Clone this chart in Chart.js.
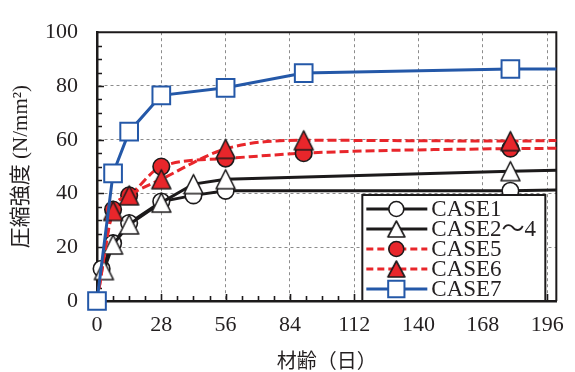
<!DOCTYPE html>
<html>
<head>
<meta charset="utf-8">
<script src="https://cdn.jsdelivr.net/npm/chart.js@4/dist/chart.umd.min.js"></script>
<style>
  html, body { margin: 0; padding: 0; background: #fff; }
  #wrap { width: 575px; height: 372px; }
</style>
</head>
<body>
<div id="wrap"><canvas id="c" width="575" height="372"></canvas></div>
<script>
// Compressive strength development by curing age.
// Ages in days, strengths in N/mm². The last entry of each series is where
// its line runs into the right edge of the plot (no marker drawn there).
const seriesNames = ['CASE1', 'CASE2〜4', 'CASE5', 'CASE6', 'CASE7'];

const case1Days = [2, 7, 14, 28, 42, 56, 180, 200];
const case1Vals = [12, 21.5, 29, 37, 39.3, 41, 41, 41.3];

const case2Days = [3, 7, 14, 28, 42, 56, 180, 200];
const case2Vals = [11.5, 21, 28.5, 36.6, 43.5, 45.3, 48.3, 48.6];

const case5Days = [0, 7, 14, 28, 56, 90, 180, 200];
const case5Vals = [0, 34, 39.3, 50, 53, 55, 56.7, 56.8];

const case6Days = [0, 7, 14, 28, 56, 90, 180, 200];
const case6Vals = [0, 33.5, 39.3, 45.3, 56.6, 59.8, 59.5, 59.7];

const case7Days = [0, 7, 14, 28, 56, 90, 180, 200];
const case7Vals = [0, 47.5, 63, 76.5, 79.3, 84.8, 86.3, 86.3];

const xTickLabels = [0, 28, 56, 84, 112, 140, 168, 196];
const yTickLabels = [0, 20, 40, 60, 80, 100];
const X_MINOR_STEP = 7;
const Y_MINOR_STEP = 5;

const BLACK = '#1c1a1b';
const RED = '#e8262b';
const BLUE = '#2458a8';
const SERIF = '"Liberation Serif", "Times New Roman", serif';
const CJK = '"Noto Sans CJK JP", sans-serif';

function pairs(days, vals) {
  return days.map((d, i) => ({x: d, y: vals[i]}));
}

// triangle marker drawn into a small canvas so it is centred on its box
function triangleMarker(fill, stroke, w, h, lw) {
  const c = document.createElement('canvas');
  c.width = Math.ceil(w + lw * 2);
  c.height = Math.ceil(h + lw * 2);
  const g = c.getContext('2d');
  const cx = c.width / 2, cy = c.height / 2;
  g.beginPath();
  g.moveTo(cx, cy - h / 2);
  g.lineTo(cx + w / 2, cy + h / 2);
  g.lineTo(cx - w / 2, cy + h / 2);
  g.closePath();
  g.fillStyle = fill;
  g.fill();
  g.lineWidth = lw;
  g.lineJoin = 'round';
  g.strokeStyle = stroke;
  g.stroke();
  return c;
}

const whiteTri = triangleMarker('#ffffff', BLACK, 19, 19, 1.6);
const redTri = triangleMarker(RED, BLACK, 19, 19, 1.6);
const whiteTriSmall = triangleMarker('#ffffff', BLACK, 17, 16, 1.6);
const redTriSmall = triangleMarker(RED, BLACK, 17, 16, 1.6);

// hide markers on the start point of the red curves and on every line end
function markerRadius(r, hideOrigin) {
  return ctx => {
    const raw = ctx.raw;
    if (!raw) return r;
    if (raw.x >= 200) return 0;
    if (hideOrigin && raw.x === 0) return 0;
    return r;
  };
}

const datasets = [
  {
    label: seriesNames[0], data: pairs(case1Days, case1Vals),
    borderColor: BLACK, borderWidth: 3, tension: 0,
    pointStyle: 'circle', pointRadius: markerRadius(8.3, false),
    pointBackgroundColor: '#ffffff', pointBorderColor: BLACK, pointBorderWidth: 1.6,
    order: 5
  },
  {
    label: seriesNames[1], data: pairs(case2Days, case2Vals),
    borderColor: BLACK, borderWidth: 3, tension: 0,
    pointStyle: whiteTri, pointRadius: markerRadius(9, false),
    order: 4
  },
  {
    label: seriesNames[2], data: pairs(case5Days, case5Vals),
    borderColor: RED, borderWidth: 3, borderDash: [9, 4],
    cubicInterpolationMode: 'monotone', tension: 0.4,
    pointStyle: 'circle', pointRadius: markerRadius(8.3, true),
    pointBackgroundColor: RED, pointBorderColor: BLACK, pointBorderWidth: 1.6,
    order: 3
  },
  {
    label: seriesNames[3], data: pairs(case6Days, case6Vals),
    borderColor: RED, borderWidth: 3, borderDash: [9, 4],
    cubicInterpolationMode: 'monotone', tension: 0.4,
    pointStyle: redTri, pointRadius: markerRadius(9, true),
    order: 2
  },
  {
    label: seriesNames[4], data: pairs(case7Days, case7Vals),
    borderColor: BLUE, borderWidth: 3, tension: 0,
    pointStyle: 'rect', pointRadius: markerRadius(12.5, false),
    pointBackgroundColor: '#ffffff', pointBorderColor: BLUE, pointBorderWidth: 2,
    order: 1
  }
];
datasets.forEach(d => { d.clip = false; d.pointHoverRadius = d.pointRadius; });

// legend samples: line style + marker for each series
const legendSamples = [
  {line: BLACK, dash: [], marker: {style: 'circle', r: 7.5, fill: '#ffffff', stroke: BLACK, lw: 1.6}},
  {line: BLACK, dash: [], marker: {img: whiteTriSmall}},
  {line: RED, dash: [7, 4], marker: {style: 'circle', r: 7.5, fill: RED, stroke: BLACK, lw: 1.6}},
  {line: RED, dash: [7, 4], marker: {img: redTriSmall}},
  {line: BLUE, dash: [], marker: {style: 'rect', r: 11.5, fill: '#ffffff', stroke: BLUE, lw: 2}}
];

// plot frame (top/right) and inward tick marks
const framePlugin = {
  id: 'frame',
  beforeDatasetsDraw(chart) {
    const {ctx, chartArea: a, scales: {x, y}} = chart;
    ctx.save();
    ctx.strokeStyle = BLACK;
    ctx.lineWidth = 2;
    ctx.beginPath();
    ctx.moveTo(a.left, a.top);
    ctx.lineTo(a.right, a.top);
    ctx.lineTo(a.right, a.bottom);
    ctx.stroke();

    ctx.lineWidth = 1.6;
    ctx.beginPath();
    for (let d = X_MINOR_STEP; d <= x.max; d += X_MINOR_STEP) {
      const px = Math.round(x.getPixelForValue(d)) + 0.5;
      const len = xTickLabels.includes(d) ? 7 : 5;
      ctx.moveTo(px, a.bottom);
      ctx.lineTo(px, a.bottom - len);
    }
    for (let v = Y_MINOR_STEP; v < y.max; v += Y_MINOR_STEP) {
      const py = Math.round(y.getPixelForValue(v)) + 0.5;
      const len = yTickLabels.includes(v) ? 7 : 5;
      ctx.moveTo(a.left, py);
      ctx.lineTo(a.left + len, py);
    }
    ctx.stroke();
    ctx.restore();
  }
};

const legendPlugin = {
  id: 'caseLegend',
  afterDraw(chart) {
    const {ctx, chartArea: a} = chart;
    const box = {l: a.right - 194, r: a.right - 11, t: a.bottom - 106, b: a.bottom};
    ctx.save();
    ctx.fillStyle = '#ffffff';
    ctx.fillRect(box.l, box.t, box.r - box.l, box.b - box.t);
    ctx.strokeStyle = BLACK;
    ctx.lineWidth = 2;
    ctx.strokeRect(box.l, box.t, box.r - box.l, box.b - box.t);

    legendSamples.forEach((s, i) => {
      const cy = box.t + 14 + i * 20;
      const x0 = box.l + 4, x1 = box.l + 65, mx = box.l + 34;
      ctx.save();
      ctx.strokeStyle = s.line;
      ctx.lineWidth = 3;
      ctx.setLineDash(s.dash);
      ctx.beginPath();
      ctx.moveTo(x0, cy);
      ctx.lineTo(x1, cy);
      ctx.stroke();
      ctx.restore();

      const m = s.marker;
      if (m.img) {
        ctx.drawImage(m.img, mx - m.img.width / 2, cy - m.img.height / 2);
      } else {
        ctx.save();
        ctx.fillStyle = m.fill;
        ctx.strokeStyle = m.stroke;
        ctx.lineWidth = m.lw;
        Chart.helpers.drawPoint(ctx, {pointStyle: m.style, radius: m.r, rotation: 0, borderWidth: m.lw}, mx, cy);
        ctx.restore();
      }

      ctx.fillStyle = '#231f20';
      ctx.font = '23px ' + SERIF + ', ' + CJK;
      ctx.textAlign = 'left';
      ctx.textBaseline = 'middle';
      ctx.fillText(seriesNames[i], box.l + 69, cy + 1);
    });
    ctx.restore();
  }
};

new Chart(document.getElementById('c'), {
  type: 'line',
  data: {datasets},
  options: {
    responsive: false,
    devicePixelRatio: 1,
    animation: false,
    events: [],
    layout: {padding: {top: 16, right: 18, left: 0, bottom: 0}},
    plugins: {legend: {display: false}, tooltip: {enabled: false}},
    scales: {
      x: {
        type: 'linear', min: 0, max: 200,
        afterBuildTicks: s => { s.ticks = xTickLabels.map(v => ({value: v})); },
        afterFit: s => { s.height = 71; },
        ticks: {
          font: {family: SERIF, size: 22}, color: '#231f20',
          padding: 11, maxRotation: 0, autoSkip: false
        },
        grid: {
          drawTicks: false, lineWidth: 1,
          color: c => (c.tick && c.tick.value === 0) ? 'rgba(0,0,0,0)' : '#8c8c8c'
        },
        border: {color: BLACK, width: 2.5, dash: [3, 3]},
        title: {
          display: true, text: '材齢（日）',
          font: {family: CJK, size: 20}, color: '#231f20',
          padding: {top: 4, bottom: 0}
        }
      },
      y: {
        type: 'linear', min: 0, max: 100,
        afterBuildTicks: s => { s.ticks = yTickLabels.map(v => ({value: v})); },
        afterFit: s => { s.width = 97; },
        ticks: {font: {family: SERIF, size: 22}, color: '#231f20', padding: 19},
        grid: {
          drawTicks: false, lineWidth: 1,
          color: c => (c.tick && (c.tick.value === 0 || c.tick.value === 100)) ? 'rgba(0,0,0,0)' : '#8c8c8c'
        },
        border: {color: BLACK, width: 2.5, dash: [3, 3]},
        title: {
          display: true, text: '圧縮強度 (N/mm²)',
          font: {family: SERIF + ', ' + CJK, size: 21}, color: '#231f20',
          padding: {top: 9, bottom: 0}
        }
      }
    }
  },
  plugins: [framePlugin, legendPlugin]
});
</script>
</body>
</html>
